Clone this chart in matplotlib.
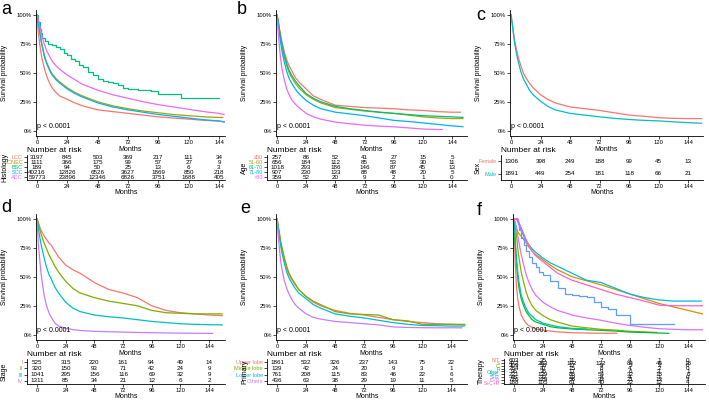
import matplotlib

matplotlib.use("Agg")
import matplotlib.pyplot as plt

plt.rcParams["font.family"] = ["Liberation Sans", "DejaVu Sans"]

W, H = 709, 400
MONTHS = [0, 24, 48, 72, 96, 120, 144]

# ggplot hue palettes
PAL2 = ["#F8766D", "#00BFC4"]
PAL4 = ["#F8766D", "#7CAE00", "#00BFC4", "#C77CFF"]
PAL5 = ["#F8766D", "#A3A500", "#00BF7D", "#00B0F6", "#E76BF3"]
PAL9 = ["#F8766D", "#D39200", "#93AA00", "#00BA38", "#00C19F",
        "#00B9E3", "#619CFF", "#DB72FB", "#FF61C3"]

T = [0, 1, 2, 3, 4, 6, 8, 10, 12, 15, 18, 24, 30, 36, 48, 60, 72, 84, 96, 108, 120, 132, 144]

# ---- a: histology
a_groups = ["LCC", "LCNEC", "BSC", "SCC", "ADC"]
a_lcc = [1, 0.85, 0.76, 0.68, 0.62, 0.53, 0.46, 0.41, 0.37, 0.33, 0.30, 0.27, 0.24, 0.215, 0.18, 0.165, 0.15, 0.135, 0.12, 0.11, 0.10, 0.09, 0.083, 0.078]
a_lcnec = [1, 0.93, 0.87, 0.80, 0.74, 0.64, 0.58, 0.53, 0.49, 0.45, 0.42, 0.37, 0.33, 0.30, 0.25, 0.215, 0.19, 0.17, 0.155, 0.14, 0.13, 0.12, 0.115, 0.115]
a_bsc_t = [0, 1, 2, 3, 4, 6, 9, 12, 15, 18, 21, 24, 27, 30, 33, 36, 40, 44, 48, 52, 56, 60, 64, 68, 72, 80, 90, 96, 105, 114, 144]
a_bsc = [1, 0.94, 0.88, 0.84, 0.80, 0.77, 0.75, 0.74, 0.72, 0.70, 0.67, 0.65, 0.62, 0.60, 0.57, 0.55, 0.51, 0.48, 0.45, 0.43, 0.42, 0.41, 0.39, 0.37, 0.36, 0.35, 0.34, 0.32, 0.32, 0.28, 0.28]
a_scc = [1, 0.93, 0.86, 0.79, 0.73, 0.63, 0.57, 0.52, 0.48, 0.44, 0.41, 0.36, 0.32, 0.29, 0.24, 0.205, 0.18, 0.16, 0.14, 0.125, 0.11, 0.095, 0.085, 0.075]
a_adc = [1, 0.96, 0.91, 0.86, 0.81, 0.74, 0.68, 0.64, 0.60, 0.56, 0.53, 0.48, 0.44, 0.40, 0.35, 0.31, 0.28, 0.25, 0.225, 0.205, 0.185, 0.165, 0.15, 0.14]
a_risk = [[3197, 845, 503, 369, 217, 111, 34],
          [1111, 366, 175, 99, 57, 27, 9],
          [189, 94, 50, 25, 13, 6, 3],
          [40216, 12826, 6526, 3627, 1869, 850, 218],
          [59773, 23896, 12346, 6826, 3751, 1688, 405]]

# ---- b: age
b_groups = ["\u226450", "51-60", "61-70", "71-80", ">80"]
b_le50 = [1, 0.95, 0.88, 0.82, 0.77, 0.68, 0.61, 0.56, 0.52, 0.46, 0.42, 0.36, 0.30, 0.27, 0.22, 0.21, 0.20, 0.195, 0.19, 0.18, 0.175, 0.165, 0.16, 0.16]
b_5160 = [1, 0.94, 0.86, 0.80, 0.74, 0.64, 0.56, 0.50, 0.46, 0.41, 0.37, 0.31, 0.27, 0.24, 0.20, 0.185, 0.17, 0.16, 0.15, 0.135, 0.12, 0.11, 0.105, 0.105]
b_6170 = [1, 0.94, 0.87, 0.81, 0.75, 0.65, 0.58, 0.52, 0.48, 0.43, 0.39, 0.32, 0.28, 0.25, 0.21, 0.19, 0.175, 0.16, 0.15, 0.14, 0.13, 0.125, 0.12, 0.115]
b_7180 = [1, 0.92, 0.83, 0.76, 0.69, 0.59, 0.51, 0.45, 0.41, 0.36, 0.32, 0.26, 0.22, 0.19, 0.16, 0.145, 0.13, 0.11, 0.09, 0.08, 0.068, 0.055, 0.042, 0.035]
b_gt80 = [1, 0.85, 0.72, 0.62, 0.54, 0.44, 0.36, 0.31, 0.27, 0.23, 0.20, 0.15, 0.12, 0.10, 0.075, 0.06, 0.048, 0.04, 0.034, 0.025, 0.015, 0.011, 0.011]
b_ends = [151, 153, 153, 153, 136]
b_risk = [[257, 86, 52, 41, 27, 15, 5],
          [656, 184, 112, 85, 53, 30, 11],
          [1018, 293, 186, 146, 87, 45, 13],
          [907, 230, 133, 88, 48, 20, 5],
          [359, 52, 20, 9, 2, 1, 0]]

# ---- c: sex
c_groups = ["Female", "Male"]
c_female = [1, 0.93, 0.85, 0.78, 0.72, 0.63, 0.56, 0.50, 0.46, 0.41, 0.37, 0.31, 0.27, 0.24, 0.205, 0.19, 0.175, 0.155, 0.135, 0.125, 0.113, 0.107, 0.105, 0.105]
c_male = [1, 0.92, 0.83, 0.75, 0.69, 0.59, 0.51, 0.45, 0.41, 0.35, 0.31, 0.255, 0.21, 0.18, 0.15, 0.135, 0.12, 0.107, 0.097, 0.09, 0.085, 0.077, 0.07, 0.065]
c_risk = [[1306, 398, 249, 188, 99, 45, 13],
          [1891, 449, 254, 181, 118, 66, 21]]

# ---- d: stage
d_groups = ["I", "II", "III", "IV"]
d_i = [1, 0.97, 0.94, 0.91, 0.89, 0.85, 0.82, 0.79, 0.77, 0.72, 0.67, 0.60, 0.56, 0.53, 0.45, 0.39, 0.36, 0.32, 0.25, 0.21, 0.19, 0.18, 0.17, 0.165]
d_ii = [1, 0.96, 0.92, 0.88, 0.85, 0.79, 0.74, 0.69, 0.65, 0.59, 0.54, 0.46, 0.40, 0.36, 0.32, 0.29, 0.27, 0.25, 0.21, 0.19, 0.185, 0.18, 0.18, 0.18]
d_iii = [1, 0.93, 0.86, 0.80, 0.75, 0.66, 0.58, 0.52, 0.48, 0.41, 0.36, 0.28, 0.23, 0.20, 0.17, 0.155, 0.145, 0.13, 0.115, 0.105, 0.095, 0.09, 0.087, 0.085]
d_iv = [1, 0.80, 0.68, 0.57, 0.48, 0.34, 0.25, 0.19, 0.15, 0.10, 0.075, 0.055, 0.045, 0.037, 0.03, 0.026, 0.023, 0.02, 0.018, 0.016, 0.014, 0.013, 0.012]
d_ends = [155, 155, 155, 147]
d_risk = [[525, 315, 220, 161, 94, 49, 14],
          [320, 150, 93, 71, 42, 24, 9],
          [1041, 295, 156, 116, 69, 32, 9],
          [1311, 85, 34, 21, 12, 6, 2]]

# ---- e: primary site
e_groups = ["Upper lobe", "Middle lobe", "Lower lobe", "Others"]
e_upper = [1, 0.93, 0.86, 0.79, 0.74, 0.65, 0.57, 0.52, 0.48, 0.43, 0.39, 0.33, 0.28, 0.25, 0.21, 0.185, 0.17, 0.15, 0.13, 0.115, 0.105, 0.095, 0.09, 0.085]
e_middle = [1, 0.94, 0.88, 0.81, 0.76, 0.67, 0.59, 0.53, 0.49, 0.44, 0.39, 0.33, 0.29, 0.26, 0.20, 0.18, 0.175, 0.17, 0.13, 0.12, 0.09, 0.09, 0.09, 0.09]
e_lower = [1, 0.92, 0.84, 0.77, 0.71, 0.62, 0.54, 0.49, 0.45, 0.40, 0.36, 0.31, 0.26, 0.23, 0.18, 0.16, 0.145, 0.125, 0.105, 0.09, 0.08, 0.078, 0.075, 0.075]
e_others = [1, 0.85, 0.74, 0.64, 0.57, 0.47, 0.40, 0.35, 0.31, 0.26, 0.23, 0.18, 0.15, 0.135, 0.115, 0.105, 0.095, 0.085, 0.068, 0.063, 0.061, 0.06, 0.06, 0.06]
e_ends = [156, 155, 155, 153]
e_risk = [[1861, 532, 326, 237, 143, 75, 22],
          [139, 42, 24, 20, 9, 3, 1],
          [761, 208, 115, 83, 46, 22, 6],
          [436, 63, 38, 29, 19, 11, 5]]

# ---- f: therapy
f_groups = ["N/T", "S", "C", "R", "Other", "S+C", "S+R", "C+R", "S+C+R"]
f_nt_t = [0, 1, 2, 3, 4, 6, 8, 10, 12, 18, 24, 36, 48, 60, 72, 85]
f_nt = [1, 0.62, 0.43, 0.32, 0.25, 0.17, 0.13, 0.10, 0.08, 0.05, 0.04, 0.025, 0.018, 0.015, 0.013, 0.013]
f_s_t = [0, 1, 2, 3, 4, 6, 8, 10, 12, 15, 18, 24, 30, 36, 42, 48, 60, 72, 84, 96, 108, 120, 132, 144, 156]
f_s = [1, 0.95, 0.92, 0.89, 0.87, 0.85, 0.82, 0.79, 0.76, 0.72, 0.69, 0.645, 0.60, 0.56, 0.53, 0.50, 0.465, 0.43, 0.39, 0.35, 0.31, 0.27, 0.24, 0.21, 0.18]
f_c_t = [0, 1, 2, 3, 4, 6, 8, 10, 12, 15, 18, 24, 30, 36, 48, 60, 72, 84, 96, 108, 118]
f_c = [1, 0.95, 0.86, 0.76, 0.67, 0.54, 0.45, 0.37, 0.31, 0.25, 0.21, 0.165, 0.13, 0.11, 0.075, 0.06, 0.047, 0.04, 0.03, 0.025, 0.02]
f_r_t = [0, 1, 2, 3, 4, 6, 8, 10, 12, 15, 18, 24, 30, 36, 48, 60, 72, 84, 96, 108, 120, 128]
f_r = [1, 0.78, 0.63, 0.50, 0.41, 0.31, 0.25, 0.20, 0.17, 0.13, 0.11, 0.09, 0.07, 0.06, 0.05, 0.044, 0.038, 0.032, 0.023, 0.02, 0.015, 0.012]
f_oth_t = [0, 1, 2, 3, 4, 6, 9, 12, 18, 24, 36, 48, 60]
f_oth = [1, 0.82, 0.66, 0.55, 0.46, 0.34, 0.25, 0.19, 0.13, 0.10, 0.07, 0.055, 0.05]
f_sc_t = [0, 2, 3, 4, 6, 8, 10, 12, 15, 18, 24, 30, 36, 42, 48, 54, 60, 66, 72, 84, 96, 108, 120, 132, 144, 155]
f_sc = [1, 1, 0.98, 0.95, 0.90, 0.85, 0.81, 0.78, 0.74, 0.71, 0.66, 0.62, 0.59, 0.56, 0.53, 0.50, 0.47, 0.46, 0.45, 0.40, 0.35, 0.32, 0.30, 0.29, 0.29, 0.29]
f_sr_t = [0, 2, 3, 4, 6, 8, 10, 12, 15, 18, 21, 24, 30, 36, 42, 48, 54, 60, 66, 72, 78, 84, 90, 96, 132]
f_sr = [1, 1, 0.95, 0.90, 0.83, 0.77, 0.72, 0.67, 0.62, 0.58, 0.54, 0.515, 0.46, 0.40, 0.35, 0.34, 0.33, 0.325, 0.28, 0.24, 0.22, 0.17, 0.17, 0.09, 0.09]
f_cr_t = [0, 1, 2, 3, 4, 6, 8, 10, 12, 15, 18, 24, 30, 36, 48, 60, 72, 84, 96, 108, 120, 132, 144, 156]
f_cr = [1, 0.97, 0.92, 0.86, 0.80, 0.69, 0.60, 0.52, 0.46, 0.39, 0.34, 0.28, 0.24, 0.21, 0.17, 0.145, 0.125, 0.10, 0.08, 0.065, 0.052, 0.047, 0.043, 0.043]
f_scr_t = [0, 3, 4, 6, 8, 10, 12, 15, 18, 24, 30, 36, 42, 48, 54, 60, 66, 72, 84, 96, 108, 120, 132, 144, 156]
f_scr = [1, 1, 0.97, 0.92, 0.87, 0.82, 0.775, 0.72, 0.68, 0.63, 0.58, 0.53, 0.50, 0.47, 0.45, 0.43, 0.41, 0.39, 0.35, 0.32, 0.29, 0.255, 0.25, 0.25, 0.25]
f_risk = [[603, 35, 11, 7, 4, 1, 0],
          [472, 283, 192, 132, 84, 45, 18],
          [309, 58, 17, 9, 5, 2, 0],
          [284, 47, 15, 8, 4, 2, 0],
          [96, 38, 17, 9, 6, 3, 1],
          [221, 139, 88, 54, 32, 18, 6],
          [65, 33, 19, 8, 4, 1, 0],
          [726, 129, 56, 33, 21, 13, 3],
          [188, 105, 61, 40, 22, 12, 4]]


def with_end(vals, end):
    # common month grid plus the last follow-up month
    return T[:len(vals) - 1] + [end], vals


def px_axes(fig, l, t, r, b):
    return fig.add_axes([l / W, 1 - b / H, (r - l) / W, (b - t) / H])


def style(ax):
    for s in ("top", "right"):
        ax.spines[s].set_visible(False)
    for s in ("left", "bottom"):
        ax.spines[s].set_linewidth(0.6)
    ax.tick_params(width=0.5, length=2, pad=1, labelsize=4.2)


def panel(fig, letter, lxy, x0, x144, right, top, curves, colors, steps,
          groups, risk, title, tfs=4.5, lfs=4.0):
    s = (x144 - x0) / 144
    xl = (-1 / s, (right - x0) / s)
    ax = px_axes(fig, x0 - 1, top, right, top + 126)
    for (t, v), c, st in zip(curves, colors, steps):
        ax.plot(t, v, color=c, lw=0.9, drawstyle="steps-post" if st else "default")
    ax.set_xlim(*xl)
    ax.set_ylim(-0.045, 1.04)
    ax.set_xticks(MONTHS)
    ax.set_yticks([0, 0.25, 0.5, 0.75, 1.0], ["0%", "25%", "50%", "75%", "100%"])
    ax.set_xlabel("Months", fontsize=5, labelpad=0.5)
    ax.set_ylabel("Survival probability", fontsize=4.8)
    ax.yaxis.set_label_coords((x0 - 29 - (x0 - 1)) / (right - x0 + 1), 0.5)
    ax.text(0, 0.035, "p < 0.0001", fontsize=5, va="center", ha="left")
    style(ax)
    fig.text(lxy[0] / W, 1 - lxy[1] / H, letter, fontsize=13, ha="left", va="top")

    # risk table
    tl = x0 - 10
    tb = px_axes(fig, tl, top + 145, right, top + 170)
    n = len(groups)
    for i, row in enumerate(risk):
        for m, val in zip(MONTHS, row):
            tb.text(m, i, str(val), fontsize=tfs, ha="center", va="center")
    tb.set_xlim(xl[0] - 9 / s, xl[1])
    tb.set_ylim(n - 0.5, -0.5)
    tb.set_xticks(MONTHS)
    tb.set_yticks(range(n), groups)
    style(tb)
    for lab, c in zip(tb.get_yticklabels(), colors):
        lab.set_color(c)
        lab.set_fontsize(lfs)
    tb.set_xlabel("Months", fontsize=5, labelpad=0)
    tb.set_ylabel(title, fontsize=5)
    tb.yaxis.set_label_coords((x0 - 29 - tl) / (right - tl), 0.5)
    fig.text(tl / W, 1 - (top + 141) / H, "Number at risk", fontsize=6, ha="left", va="center")


fig = plt.figure(figsize=(W / 100, H / 100), dpi=100)

panel(fig, "a", (1, 1), 37, 219, 225, 10,
      [with_end(a_lcc, 149), with_end(a_lcnec, 147), (a_bsc_t, a_bsc),
       with_end(a_scc, 148), with_end(a_adc, 148)],
      PAL5, [False, False, True, False, False], a_groups, a_risk, "Histology")

panel(fig, "b", (237, 1), 277, 452, 467, 10,
      [with_end(v, e) for v, e in zip([b_le50, b_5160, b_6170, b_7180, b_gt80], b_ends)],
      PAL5, [False] * 5, b_groups, b_risk, "Age")

panel(fig, "c", (476, 7), 511, 688, 703, 10,
      [with_end(c_female, 155), with_end(c_male, 155)],
      PAL2, [False] * 2, c_groups, c_risk, "Sex")

panel(fig, "d", (1, 199), 37, 209, 225, 214,
      [with_end(v, e) for v, e in zip([d_i, d_ii, d_iii, d_iv], d_ends)],
      PAL4, [False] * 4, d_groups, d_risk, "Stage")

panel(fig, "e", (240, 200), 277, 451, 467, 214,
      [with_end(v, e) for v, e in zip([e_upper, e_middle, e_lower, e_others], e_ends)],
      PAL4, [False] * 4, e_groups, e_risk, "Primary")

panel(fig, "f", (477, 202), 514, 688, 705, 214,
      [(f_nt_t, f_nt), (f_s_t, f_s), (f_c_t, f_c), (f_r_t, f_r), (f_oth_t, f_oth),
       (f_sc_t, f_sc), (f_sr_t, f_sr), (f_cr_t, f_cr), (f_scr_t, f_scr)],
      PAL9, [False, False, False, False, False, False, True, False, False],
      f_groups, f_risk, "Therapy", tfs=4.5, lfs=3.6)

fig.savefig("out.png", dpi=100)
